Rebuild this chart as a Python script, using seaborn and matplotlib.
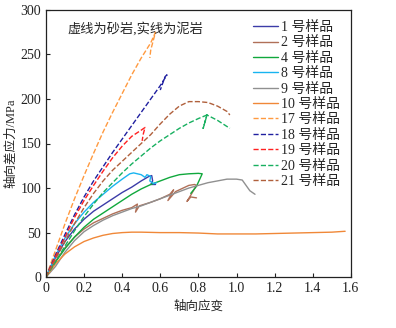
import matplotlib
matplotlib.use("Agg")
import matplotlib.pyplot as plt
import seaborn as sns

# 泥岩 (solid)
strain_1 = [0, 0.05, 0.1, 0.15, 0.2, 0.25, 0.3, 0.35, 0.4, 0.45, 0.5, 0.54, 0.555, 0.56, 0.55, 0.575]
stress_1 = [0, 22, 40, 54, 65, 74, 81, 88, 95, 101, 108, 113, 114, 108, 104, 104]
strain_2 = [0, 0.05, 0.1, 0.15, 0.2, 0.25, 0.3, 0.35, 0.4, 0.45, 0.48, 0.47, 0.49, 0.55, 0.6, 0.65,
            0.67, 0.64, 0.68, 0.72, 0.75, 0.78, 0.79, 0.76, 0.74, 0.76, 0.79]
stress_2 = [0, 18, 33, 45, 54, 61, 66, 71, 75, 78, 82, 73, 80, 84, 88, 93,
            98, 86, 96, 100, 103, 104, 103, 92, 85, 90, 89]
strain_4 = [0, 0.05, 0.1, 0.15, 0.2, 0.25, 0.3, 0.35, 0.4, 0.45, 0.5, 0.55, 0.6, 0.65, 0.7, 0.75,
            0.8, 0.82, 0.79, 0.76]
stress_4 = [0, 17, 32, 45, 56, 65, 72, 79, 86, 93, 99, 104, 108, 112, 115, 116, 116.5, 116, 102, 94]
strain_8 = [0, 0.05, 0.1, 0.15, 0.2, 0.25, 0.3, 0.35, 0.4, 0.44, 0.46, 0.5, 0.52, 0.53, 0.55,
            0.545, 0.565, 0.58]
stress_8 = [0, 24, 44, 60, 73, 84, 93, 102, 110, 116, 117, 115, 112, 115, 113, 108, 105, 106]
strain_9 = [0, 0.05, 0.1, 0.15, 0.2, 0.25, 0.3, 0.35, 0.4, 0.45, 0.5, 0.55, 0.6, 0.65, 0.7, 0.75,
            0.8, 0.85, 0.9, 0.95, 1.0, 1.03, 1.05, 1.07, 1.097]
stress_9 = [0, 12, 28, 41, 51, 58, 64, 69, 73, 77, 80, 84, 88, 92, 96, 100,
            103, 106, 108, 110, 110, 109, 103, 97, 93]
strain_10 = [0, 0.05, 0.1, 0.15, 0.2, 0.25, 0.3, 0.35, 0.4, 0.45, 0.5, 0.6, 0.7, 0.8, 0.9, 1.0,
             1.1, 1.2, 1.3, 1.4, 1.5, 1.57]
stress_10 = [0, 15, 26, 34, 40, 44, 47, 49, 50, 50.5, 50.5, 50, 50, 49.5, 48.5, 48.5,
             48.5, 49, 49.5, 50, 50.5, 51.5]

# 砂岩 (dashed)
strain_17 = [0, 0.05, 0.1, 0.15, 0.2, 0.25, 0.3, 0.35, 0.4, 0.45, 0.5, 0.55, 0.575, 0.55, 0.545]
stress_17 = [0, 30, 60, 88, 114, 139, 163, 185, 206, 227, 246, 263, 275, 255, 246]
strain_18 = [0, 0.05, 0.1, 0.15, 0.2, 0.25, 0.3, 0.35, 0.4, 0.45, 0.5, 0.55, 0.6, 0.635, 0.625, 0.6]
stress_18 = [0, 25, 48, 70, 90, 108, 124, 140, 155, 170, 185, 200, 215, 227, 225, 210]
strain_19 = [0, 0.05, 0.1, 0.15, 0.2, 0.25, 0.3, 0.35, 0.4, 0.45, 0.5, 0.52, 0.51, 0.505]
stress_19 = [0, 23, 45, 67, 86, 103, 119, 134, 147, 158, 165, 168, 160, 153]
strain_20 = [0, 0.05, 0.1, 0.15, 0.2, 0.25, 0.3, 0.35, 0.4, 0.45, 0.5, 0.55, 0.6, 0.65, 0.7, 0.75,
             0.8, 0.845, 0.825, 0.845, 0.9, 0.965]
stress_20 = [0, 17, 35, 52, 68, 82, 95, 106, 117, 127, 136, 145, 153, 160, 167, 173,
             178, 182, 167, 182, 176, 167]
strain_21 = [0, 0.05, 0.1, 0.15, 0.2, 0.25, 0.3, 0.35, 0.4, 0.45, 0.5, 0.55, 0.6, 0.65, 0.7, 0.75,
             0.8, 0.85, 0.9, 0.95, 0.965]
stress_21 = [0, 20, 40, 60, 78, 94, 108, 120, 130, 140, 150, 160, 172, 183, 192, 197,
             197, 196, 192, 186, 182]

curves = [
    ("1 号样品", strain_1, stress_1, "#3c3ca8", "-"),
    ("2 号样品", strain_2, stress_2, "#b07058", "-"),
    ("4 号样品", strain_4, stress_4, "#10a83c", "-"),
    ("8 号样品", strain_8, stress_8, "#18b4f0", "-"),
    ("9 号样品", strain_9, stress_9, "#909090", "-"),
    ("10 号样品", strain_10, stress_10, "#f08838", "-"),
    ("17 号样品", strain_17, stress_17, "#ff9a40", "--"),
    ("18 号样品", strain_18, stress_18, "#2020a0", "--"),
    ("19 号样品", strain_19, stress_19, "#ff2020", "--"),
    ("20 号样品", strain_20, stress_20, "#18b060", "--"),
    ("21 号样品", strain_21, stress_21, "#b0603c", "--"),
]

sns.set_style("ticks")
plt.rcParams['font.family'] = ['Liberation Serif', 'Noto Sans CJK SC']

fig = plt.figure(figsize=(3.96, 3.28), dpi=100)
ax = fig.add_axes([0.116, 0.155, 0.77, 0.815])

for label, xs, ys, color, ls in curves:
    sns.lineplot(x=xs, y=ys, ax=ax, sort=False, estimator=None, color=color,
                 linestyle=ls, linewidth=1.0, label=label)

ax.set_xlim(0, 1.6)
ax.set_ylim(0, 300)
ax.set_xticks([0, 0.2, 0.4, 0.6, 0.8, 1.0, 1.2, 1.4, 1.6])
ax.set_xticklabels(["0", "0.2", "0.4", "0.6", "0.8", "1.0", "1.2", "1.4", "1.6"])
ax.set_yticks(range(0, 301, 50))
ax.tick_params(direction="in", labelsize=10, length=3, width=0.8, colors="#222222")
for s in ax.spines.values():
    s.set_linewidth(0.9)
    s.set_color("#222222")

ax.set_xlabel("轴向应变", fontsize=9)
ax.set_ylabel("轴向差应力/MPa", fontsize=9, labelpad=2)
ax.text(0.07, 0.955, "虚线为砂岩,实线为泥岩", transform=ax.transAxes, fontsize=9.5,
        va="top", ha="left")

ax.legend(loc="upper right", frameon=False, fontsize=10, handlelength=1.8,
          handletextpad=0.2, labelspacing=0.17, borderaxespad=0.4)

fig.savefig("out.png", dpi=100)
